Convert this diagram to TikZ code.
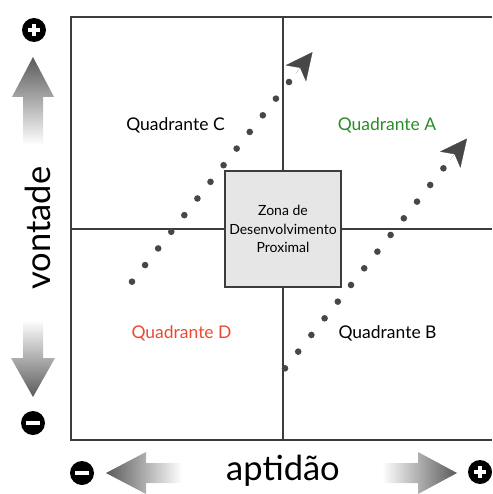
\documentclass[tikz,border=0pt]{standalone}
\usepackage{fontspec}
\setmainfont{Lato}
\usetikzlibrary{arrows.meta,calc}
\definecolor{framegray}{HTML}{3C3C3C}
\definecolor{dotgray}{HTML}{474747}
\definecolor{zonefill}{HTML}{E6E6E6}
\definecolor{arrowdark}{HTML}{5A5A5A}
\definecolor{quadgreen}{RGB}{40,140,40}
\definecolor{quadred}{RGB}{236,72,50}
\begin{document}
\begin{tikzpicture}[x=1pt,y=-1pt,
  frameline/.style={draw=framegray,line width=1.1pt},
  zonebox/.style={draw=framegray,line width=1.1pt,fill=zonefill,minimum size=116pt,
    align=center,inner sep=0pt,font=\fontsize{14}{18.3}\selectfont},
  quadlabel/.style={font=\fontsize{17.5}{19}\selectfont,inner sep=0pt},
  axislabel/.style={font=\fontsize{34.5}{36}\selectfont,inner sep=0pt},
  dotmark/.style={fill=dotgray},
  headline/.style={draw=dotgray,line width=0.01pt,
    -{Stealth[length=27pt,width=26pt,inset=7pt,line width=0.3pt]}},
  signdot/.style={circle,fill=black,minimum size=24pt,inner sep=0pt},
  plussign/.style={signdot,path picture={
    \draw[white,line width=4pt]
      ($(path picture bounding box.center)+(-6pt,0)$) -- ++(12pt,0)
      ($(path picture bounding box.center)+(0,-6pt)$) -- ++(0,12pt);}},
  minussign/.style={signdot,path picture={
    \draw[white,line width=4.5pt]
      ($(path picture bounding box.center)+(-7pt,0)$) -- ++(14pt,0);}}
]
\useasboundingbox (0,0) rectangle (492,494);

% frame and quadrant axes
\coordinate (tl) at (71,17);
\coordinate (tr) at (492,17);
\coordinate (bl) at (71,440);
\coordinate (br) at (492,440);
\coordinate (vt) at (283,17);
\coordinate (vb) at (283,440);
\coordinate (hl) at (71,229);
\coordinate (hr) at (492,229);
\draw[frameline] (tr) -- (tl) -- (bl) -- (br);
\draw[frameline] (vt) -- (vb);
\draw[frameline] (hl) -- (hr);

% dotted progress arrows
\coordinate (c0) at (132,281.7);
\coordinate (c12) at (289,82);
\coordinate (ctip) at ($(c12)!38pt!($(c12)+(c12)-(c0)$)$);
\coordinate (b0) at (285,368.3);
\coordinate (b12) at (443.4,168.3);
\coordinate (btip) at ($(b12)!38pt!($(b12)+(b12)-(b0)$)$);
\foreach \k in {0,...,12}{
  \fill[dotmark] ($(c0)!\k/12!(c12)$) circle (3.3pt);
  \fill[dotmark] ($(b0)!\k/12!(b12)$) circle (3.3pt);
}
\draw[headline] ($(c12)!11pt!(ctip)$) -- (ctip);
\draw[headline] ($(b12)!11pt!(btip)$) -- (btip);

% central zone
\node[zonebox] (zpd) at (283,229) {Zona de\\Desenvolvimento\\Proximal};

% quadrant labels
\node[quadlabel] (qc) at (175.5,125) {Quadrante C};
\node[quadlabel,text=quadgreen] (qa) at (387,125) {Quadrante A};
\node[quadlabel,text=quadred] (qd) at (181.5,333) {Quadrante D};
\node[quadlabel] (qb) at (387.5,333) {Quadrante B};

% vertical axis: arrows, signs and label
\shade[top color=arrowdark,bottom color=white]
  (33,57) -- (54,97) -- (43,97) -- (43,145) -- (23,145) -- (23,97) -- (12,97) -- cycle;
\shade[top color=white,bottom color=arrowdark]
  (23,320) -- (43,320) -- (43,358) -- (55,358) -- (33,397) -- (11,358) -- (23,358) -- cycle;
\node[plussign] (vplus) at (34,30) {};
\node[minussign] (vminus) at (33,423) {};
\node[axislabel,rotate=90] (vontade) at (38,228) {vontade};

% horizontal axis: arrows, signs and label
\shade[left color=arrowdark,right color=white]
  (106,473) -- (146,452) -- (146,463) -- (182,463) -- (182,483) -- (146,483) -- (146,494) -- cycle;
\shade[left color=white,right color=arrowdark]
  (382,463) -- (418,463) -- (418,452) -- (457,473) -- (418,494) -- (418,483) -- (382,483) -- cycle;
\node[minussign] (hminus) at (82,473) {};
\node[plussign] (hplus) at (480,472) {};
\node[axislabel] (aptidao) at (283,471) {aptidão};
\end{tikzpicture}
\end{document}
